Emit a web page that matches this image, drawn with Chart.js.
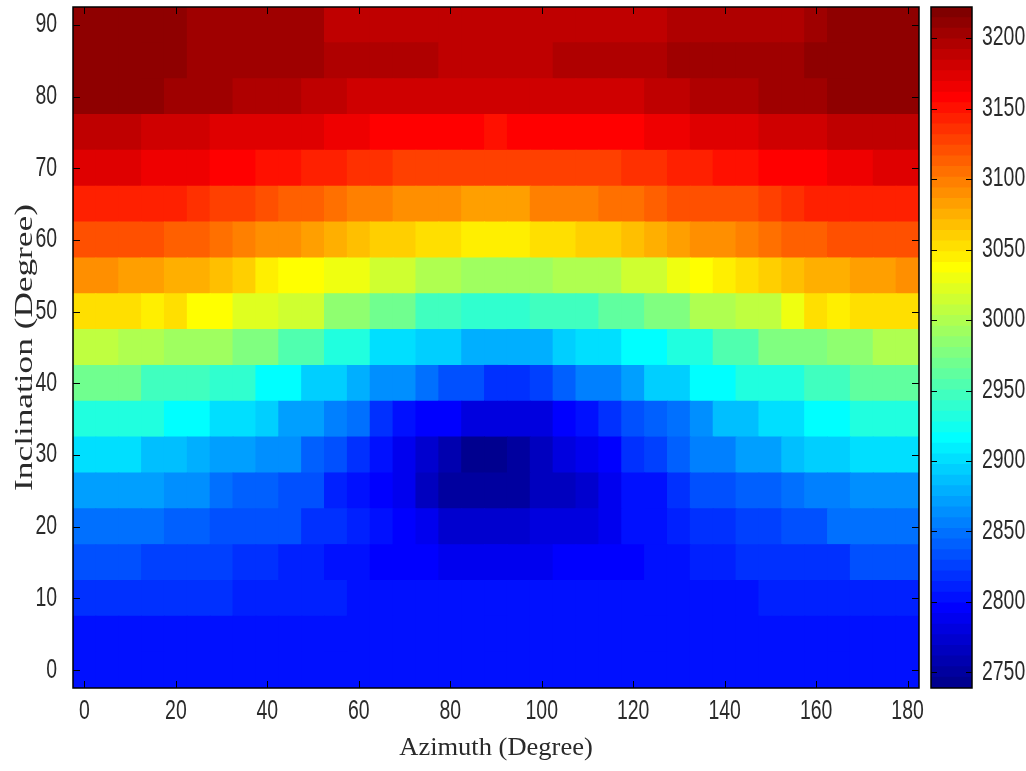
<!DOCTYPE html>
<html>
<head>
<meta charset="utf-8">
<script src="https://cdn.jsdelivr.net/npm/chart.js@4"></script>
<style>
html,body{margin:0;padding:0;background:#fff;overflow:hidden}
canvas{position:absolute;left:0;top:0}
</style>
</head>
<body>
<canvas id="heat" width="1026" height="771"></canvas>
<canvas id="cbar" width="1026" height="771"></canvas>
<script>
const azimuths = [0,5,10,15,20,25,30,35,40,45,50,55,60,65,70,75,80,85,90,95,100,105,110,115,120,125,130,135,140,145,150,155,160,165,170,175,180];
const inc90 = [3214,3214,3214,3214,3214,3204,3200,3200,3204,3201,3201,3190,3190,3186,3186,3186,3186,3186,3186,3186,3186,3186,3188,3188,3188,3188,3195,3195,3192,3192,3192,3192,3204,3212,3212,3212,3212];
const inc85 = [3214,3214,3214,3214,3214,3204,3204,3204,3202,3202,3202,3198,3198,3195,3195,3193,3188,3188,3188,3190,3190,3194,3194,3194,3194,3194,3200,3200,3200,3204,3204,3204,3214,3214,3214,3214,3214];
const inc80 = [3208,3208,3208,3208,3200,3200,3200,3192,3192,3192,3185,3185,3180,3180,3178,3178,3178,3178,3178,3178,3178,3178,3178,3178,3182,3190,3190,3196,3196,3196,3202,3202,3202,3208,3208,3208,3208];
const inc75 = [3188,3188,3188,3178,3178,3178,3175,3175,3172,3172,3172,3168,3168,3160,3160,3160,3160,3160,3150,3160,3160,3160,3160,3160,3160,3166,3166,3172,3172,3172,3182,3182,3182,3186,3190,3190,3190];
const inc70 = [3170,3170,3170,3165,3165,3165,3158,3158,3150,3150,3142,3142,3137,3137,3128,3128,3128,3128,3128,3127,3127,3127,3127,3127,3137,3137,3145,3145,3152,3152,3158,3158,3158,3166,3166,3170,3170];
const inc65 = [3142,3142,3142,3142,3142,3132,3128,3128,3122,3110,3110,3102,3095,3095,3090,3090,3090,3085,3085,3085,3095,3095,3095,3102,3102,3112,3118,3118,3122,3122,3130,3133,3142,3142,3142,3142,3142];
const inc60 = [3120,3120,3120,3120,3112,3112,3103,3098,3092,3092,3085,3078,3070,3060,3060,3050,3050,3041,3041,3041,3055,3055,3062,3062,3068,3075,3080,3088,3088,3098,3103,3112,3112,3120,3120,3120,3120];
const inc55 = [3090,3090,3082,3082,3073,3073,3066,3058,3048,3040,3035,3030,3030,3012,3012,3000,3000,2995,2995,2995,2995,3002,3002,3002,3016,3016,3028,3035,3041,3050,3060,3066,3075,3075,3084,3084,3090];
const inc50 = [3055,3055,3055,3042,3055,3035,3035,3022,3022,3012,3012,2985,2985,2968,2968,2950,2950,2940,2940,2940,2950,2950,2950,2965,2965,2975,2975,2998,2998,3010,3010,3032,3052,3042,3055,3055,3055];
const inc45 = [3008,3008,3000,3000,2990,2990,2990,2975,2975,2955,2955,2930,2930,2905,2905,2895,2895,2880,2880,2880,2880,2890,2900,2900,2915,2915,2935,2935,2955,2955,2975,2975,2975,2988,2988,3002,3002];
const inc40 = [2970,2970,2970,2950,2950,2950,2942,2942,2920,2920,2893,2893,2880,2860,2860,2845,2833,2833,2820,2820,2826,2838,2855,2855,2868,2890,2890,2917,2917,2935,2935,2935,2950,2950,2965,2965,2965];
const inc35 = [2932,2932,2932,2932,2918,2918,2903,2903,2890,2870,2870,2855,2848,2818,2806,2798,2798,2780,2780,2778,2778,2795,2805,2820,2832,2842,2852,2865,2883,2883,2905,2905,2918,2918,2930,2930,2930];
const inc30 = [2900,2900,2900,2887,2887,2880,2870,2870,2860,2860,2838,2832,2820,2800,2790,2772,2755,2745,2745,2748,2765,2778,2790,2797,2818,2828,2838,2858,2858,2870,2870,2883,2897,2897,2905,2905,2905];
const inc25 = [2870,2870,2870,2870,2862,2862,2852,2844,2844,2836,2836,2808,2805,2799,2785,2767,2750,2750,2750,2752,2768,2768,2775,2790,2800,2805,2822,2832,2832,2842,2842,2850,2856,2856,2866,2866,2866];
const inc20 = [2848,2848,2848,2848,2842,2842,2835,2835,2830,2830,2818,2818,2808,2800,2796,2785,2775,2770,2770,2772,2778,2778,2778,2790,2800,2805,2808,2818,2818,2828,2828,2835,2835,2845,2845,2845,2845];
const inc15 = [2833,2833,2833,2824,2824,2824,2824,2816,2816,2810,2810,2803,2803,2799,2799,2799,2790,2790,2790,2790,2790,2796,2796,2796,2798,2802,2802,2810,2810,2817,2817,2817,2817,2817,2830,2830,2830];
const inc10 = [2816,2816,2816,2816,2816,2816,2816,2808,2808,2808,2808,2808,2801,2801,2801,2801,2801,2801,2801,2801,2801,2801,2801,2801,2801,2806,2806,2806,2806,2806,2812,2812,2812,2812,2812,2812,2812];
const inc5  = [2804,2804,2804,2804,2804,2804,2804,2804,2804,2804,2801,2801,2801,2801,2801,2801,2801,2801,2801,2801,2801,2801,2801,2801,2801,2801,2801,2804,2804,2804,2804,2804,2804,2804,2804,2804,2804];
const inc0  = [2804,2804,2804,2804,2804,2804,2804,2804,2801,2801,2801,2801,2801,2801,2801,2801,2801,2801,2801,2801,2801,2801,2801,2801,2801,2801,2801,2801,2801,2804,2804,2804,2804,2804,2804,2804,2804];
const inclinations = [0,5,10,15,20,25,30,35,40,45,50,55,60,65,70,75,80,85,90];
const rows = [inc0,inc5,inc10,inc15,inc20,inc25,inc30,inc35,inc40,inc45,inc50,inc55,inc60,inc65,inc70,inc75,inc80,inc85,inc90];
const xTickLabels = [0,20,40,60,80,100,120,140,160,180];
const colorMin = 2739, colorMax = 3222, colorLevels = 64;

const axisFont = {family:'"Liberation Sans",sans-serif', size:27};
const titleFont = {family:'"Liberation Serif",serif', size:25};
const inkColor = '#2a2a2a';
const textWidthScale = {'Inclination (Degree)':1.41,'Azimuth (Degree)':1.06};
const tickWidthScale = 0.72;

function jet(v){
  const u = Math.min(0.9999, Math.max(0,(v-colorMin)/(colorMax-colorMin)));
  const t = (Math.floor(u*colorLevels)+1)/colorLevels;
  const c = x => Math.round(255*Math.min(1,Math.max(0,1.5-Math.abs(4*t-x))));
  return `rgb(${c(3)},${c(2)},${c(1)})`;
}

// the reference's labels are bitmap-stretched: keep Chart.js's own text, drawn squeezed or widened about its anchor
const stretchPlugin = {
  id:'stretch',
  beforeInit(chart){
    const ctx = chart.ctx, draw = ctx.fillText.bind(ctx);
    ctx.fillText = (text,x,y) => {
      const k = textWidthScale[text] || tickWidthScale;
      ctx.save(); ctx.translate(x,y); ctx.scale(k,1); draw(text,0,0); ctx.restore();
    };
  }
};

// frame and inward MATLAB-style ticks, placed through the chart's scales
const framePlugin = {
  id:'frame',
  afterDatasetsDraw(chart,args,opts){
    const {ctx,chartArea:a,scales} = chart, len = opts.len;
    ctx.save();
    ctx.strokeStyle = '#000'; ctx.lineWidth = 1;
    ctx.beginPath();
    if(opts.xTicks) opts.xTicks.forEach(v=>{
      const x = Math.round(scales.x.getPixelForValue(azimuths.indexOf(v)))+.5;
      ctx.moveTo(x,a.bottom); ctx.lineTo(x,a.bottom-len);
      ctx.moveTo(x,a.top); ctx.lineTo(x,a.top+len);
    });
    scales.y.ticks.forEach(t=>{
      const y = Math.round(scales.y.getPixelForValue(t.value))+.5;
      ctx.moveTo(a.left,y); ctx.lineTo(a.left+len,y);
      ctx.moveTo(a.right,y); ctx.lineTo(a.right-len,y);
    });
    ctx.stroke();
    ctx.lineWidth = 1.5;
    ctx.strokeRect(a.left,a.top,a.right-a.left,a.bottom-a.top);
    ctx.restore();
  }
};

function zeroPad(s){s.paddingTop=0;s.paddingBottom=0;s.paddingLeft=0;s.paddingRight=0;}

new Chart(document.getElementById('heat'),{
  type:'bar',
  data:{
    labels:azimuths.map(String),
    datasets:rows.map((r,j)=>({
      label:'Inclination '+inclinations[j],
      data:r.map(()=>[inclinations[j]-2.5,inclinations[j]+2.5]),
      backgroundColor:r.map(jet),
      borderWidth:0,
      inflateAmount:0.5
    }))
  },
  options:{
    responsive:false,animation:false,
    layout:{padding:{top:7,right:107,left:0,bottom:0}},
    datasets:{bar:{grouped:false,barPercentage:1,categoryPercentage:1}},
    plugins:{legend:{display:false},tooltip:{enabled:false},frame:{len:7,xTicks:xTickLabels}},
    scales:{
      x:{
        grid:{display:false},border:{display:false},
        title:{display:true,text:'Azimuth (Degree)',font:titleFont,color:inkColor,padding:{top:0,bottom:8}},
        ticks:{font:axisFont,color:inkColor,padding:-1,autoSkip:false,maxRotation:0,minRotation:0,
          callback(v,i){return xTickLabels.includes(azimuths[i])?String(azimuths[i]):null;}},
        afterFit(s){s.height=83;zeroPad(s);}
      },
      y:{
        min:-2.5,max:92.5,
        grid:{display:false},border:{display:false},
        title:{display:true,text:'Inclination (Degree)',font:titleFont,color:inkColor,padding:{top:10,bottom:0}},
        ticks:{font:axisFont,color:inkColor,padding:8,stepSize:10,includeBounds:false},
        afterFit(s){s.width=73;zeroPad(s);}
      }
    }
  },
  plugins:[stretchPlugin,framePlugin]
});

const levelEdges = Array.from({length:colorLevels+1},(_,k)=>colorMin+(colorMax-colorMin)*k/colorLevels);
new Chart(document.getElementById('cbar'),{
  type:'bar',
  data:{
    labels:['c'],
    datasets:levelEdges.slice(0,-1).map((lo,k)=>({
      data:[[lo,levelEdges[k+1]]],
      backgroundColor:jet((lo+levelEdges[k+1])/2),
      borderWidth:0,
      inflateAmount:0.5
    }))
  },
  options:{
    responsive:false,animation:false,
    layout:{padding:{top:7,left:931,right:0,bottom:83}},
    datasets:{bar:{grouped:false,barPercentage:1,categoryPercentage:1}},
    plugins:{legend:{display:false},tooltip:{enabled:false},frame:{len:6}},
    scales:{
      x:{display:false},
      y:{
        position:'right',min:colorMin,max:colorMax,
        grid:{display:false},border:{display:false},
        ticks:{font:axisFont,color:inkColor,padding:2,stepSize:50,includeBounds:false,callback(v){return String(v);}},
        afterFit(s){s.width=54;zeroPad(s);}
      }
    }
  },
  plugins:[stretchPlugin,framePlugin]
});
</script>
</body>
</html>
